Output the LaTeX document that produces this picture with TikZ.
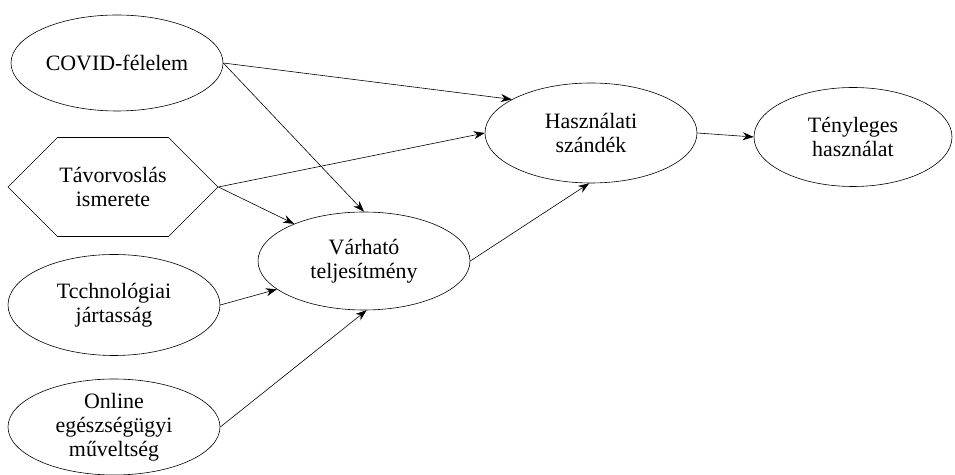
\documentclass[tikz,border=0pt]{standalone}
\usepackage{fontspec}
\setmainfont{Liberation Serif}
\usetikzlibrary{arrows.meta,shapes.geometric,shapes.symbols}
\begin{document}
\begin{tikzpicture}[x=1bp,y=-1bp,
    construct/.style={draw, ellipse, line width=0.6pt, inner sep=0pt, minimum width=212bp, minimum height=98bp, align=center, font=\fontsize{22}{24}\selectfont},
    hexbox/.style={draw, signal, signal from=nowhere, signal to=west and east, signal pointer angle=90, line width=0.6pt, inner sep=0pt, minimum width=210bp, minimum height=99bp, align=center, font=\fontsize{22}{24}\selectfont},
    link/.style={-{Stealth[length=11bp,width=8bp]}, line width=0.6pt}]
    \useasboundingbox (0,0) rectangle (955,475);
    %\draw[help lines, color=gray!30, dashed] (0,0) grid[step=50] (955,475);
    % inputs on the left
    \node [construct, minimum height=96bp] (covid) at (117,63) {COVID-félelem};
    \node [hexbox] (know) at (113,187) {Távorvoslás\\ismerete};
    \node [construct, minimum height=101bp] (tech) at (114,305) {Tcchnológiai\\jártasság};
    \node [construct, minimum height=96bp] (online) at (114,427) {Online\\egészségügyi\\műveltség};
    % middle and right
    \node [construct] (expect) at (364,261) {Várható\\teljesítmény};
    \node [construct, minimum height=100bp] (intent) at (591,133) {Használati\\szándék};
    \node [construct, minimum width=198bp, minimum height=99bp] (actual) at (853,137) {Tényleges\\használat};
    % links
    \draw [link] (covid.east) -- (intent.157);
    \draw [link] (covid.east) -- (expect.north);
    \draw [link] (know.east) -- (intent.west);
    \draw [link] (know.east) -- (expect.152);
    \draw [link] (tech.east) -- (expect.198);
    \draw [link] (online.east) -- (expect.273);
    \draw [link] (expect.east) -- (intent.268);
    \draw [link] (intent.east) -- (actual.west);
\end{tikzpicture}
\end{document}
